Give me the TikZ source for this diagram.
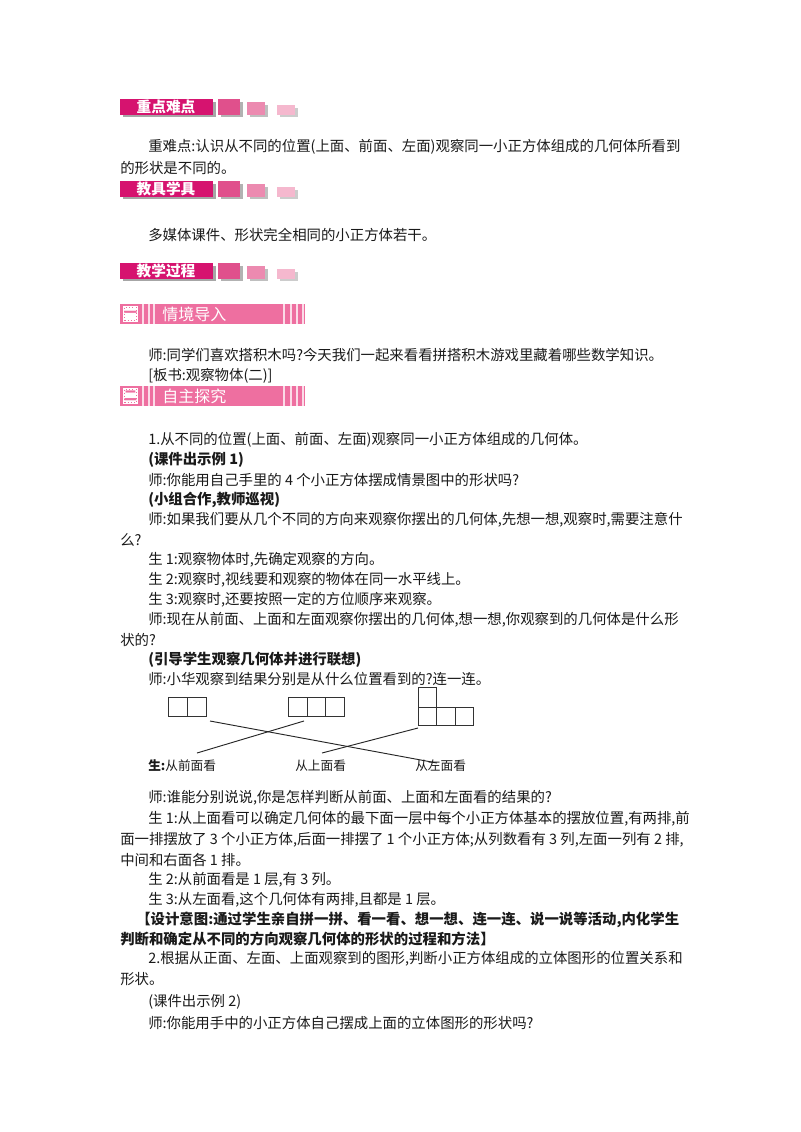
\documentclass[tikz,border=0pt]{standalone}
\usepackage{fontspec}
\setmainfont{Noto Sans CJK SC}
\definecolor{mag}{HTML}{D6136F}
\definecolor{sq1}{HTML}{E0508C}
\definecolor{sq2}{HTML}{EC8AB0}
\definecolor{sq3}{HTML}{F5B8CE}
\definecolor{bar}{HTML}{EE6FA0}
\definecolor{txt}{HTML}{1A1A1A}
\tikzset{
 ln/.style={anchor=west,inner sep=0pt,font=\fontsize{10.8}{13}\selectfont,text=txt},
 lb/.style={ln,font=\fontsize{10.8}{13}\selectfont\bfseries},
 cell/.style={draw=black!80,line width=0.7pt},
 wire/.style={draw=black!85,line width=0.7pt},
 lab/.style={anchor=west,inner sep=0pt,font=\fontsize{9.5}{11}\selectfont,text=txt}
}
\newcommand{\hdr}[3]{%
 \fill[black!35] (122.5,#1-6.5) rectangle (215.5,#1+9);
 \fill[mag] (120,#1-9) rectangle (213,#1+7);
 \node[inner sep=0pt,text=white,font=\fontsize{11}{12}\selectfont\bfseries] (#3) at (166,#1-1) {#2};
 \fill[black!30] (220.5,#1-6.5) rectangle (242.5,#1+9);
 \fill[sq1] (218,#1-9) rectangle (240,#1+7);
 \fill[black!25] (249.5,#1-3.5) rectangle (267.5,#1+9);
 \fill[sq2] (247,#1-6) rectangle (265,#1+7);
 \fill[black!20] (279.5,#1-0.5) rectangle (297.5,#1+9);
 \fill[sq3] (277,#1-3) rectangle (295,#1+7);
}
\newcommand{\sect}[4]{%
 \fill[bar] (120,#1-10) rectangle (305,#1+10);
 \fill[white] (123,#1-8) rectangle (138,#1+8);
 \draw[bar,dotted,line width=0.4pt] (124.5,#1-6.5) rectangle (136.5,#1+6.5);
 \node[inner sep=0pt,text=bar,font=\fontsize{10}{11}\selectfont\bfseries] at (130.5,#1) {#2};
 \foreach \xx in {142,148,153,283,290,296,302} \fill[white!75!bar] (\xx,#1-10) rectangle (\xx+1.6,#1+10);
 \node[anchor=west,inner sep=0pt,text=white,font=\fontsize{12}{14}\selectfont] (#4) at (162,#1) {#3};
}
\begin{document}
\begin{tikzpicture}[x=0.75pt,y=-0.75pt]
\useasboundingbox (0,0) rectangle (800,1132);
\fill[white] (0,0) rectangle (800,1132);
\hdr{108}{重点难点}{h1}
\node[ln] (t1) at (148,147) {重难点:认识从不同的位置(上面、前面、左面)观察同一小正方体组成的几何体所看到};
\node[ln] (t2) at (120,168) {的形状是不同的。};
\hdr{190}{教具学具}{h2}
\node[ln] (t3) at (148,235) {多媒体课件、形状完全相同的小正方体若干。};
\hdr{272}{教学过程}{h3}
\sect{314}{一}{情境导入}{s1}
\node[ln] (t4) at (148,355) {师:同学们喜欢搭积木吗?今天我们一起来看看拼搭积木游戏里藏着哪些数学知识。};
\node[ln] (t5) at (148,376) {[板书:观察物体(二)]};
\sect{396}{二}{自主探究}{s2}
\node[ln] (t6) at (148,440) {1.从不同的位置(上面、前面、左面)观察同一小正方体组成的几何体。};
\node[lb] (t7) at (148,460) {(课件出示例 1)};
\node[ln] (t8) at (148,480) {师:你能用自己手里的 4 个小正方体摆成情景图中的形状吗?};
\node[lb] (t9) at (148,500) {(小组合作,教师巡视)};
\node[ln] (t10) at (148,520) {师:如果我们要从几个不同的方向来观察你摆出的几何体,先想一想,观察时,需要注意什};
\node[ln] (t11) at (120,540) {么?};
\node[ln] (t12) at (148,560) {生 1:观察物体时,先确定观察的方向。};
\node[ln] (t13) at (148,580) {生 2:观察时,视线要和观察的物体在同一水平线上。};
\node[ln] (t14) at (148,600) {生 3:观察时,还要按照一定的方位顺序来观察。};
\node[ln] (t15) at (148,620) {师:现在从前面、上面和左面观察你摆出的几何体,想一想,你观察到的几何体是什么形};
\node[ln] (t16) at (120,640) {状的?};
\node[lb] (t17) at (148,660) {(引导学生观察几何体并进行联想)};
\node[ln] (t18) at (148,679) {师:小华观察到结果分别是从什么位置看到的?连一连。};
% figures
\draw[cell] (168,697) rectangle (206,716); \draw[cell] (187,697) -- (187,716);
\draw[cell] (288,697) rectangle (344,716); \draw[cell] (307,697) -- (307,716); \draw[cell] (325,697) -- (325,716);
\draw[cell] (418,687) rectangle (436,707);
\draw[cell] (418,707) rectangle (473,725); \draw[cell] (436,707) -- (436,725); \draw[cell] (455,707) -- (455,725);
\coordinate (a1) at (210,721); \coordinate (a2) at (437,763);
\coordinate (b1) at (304,721); \coordinate (b2) at (197,753);
\coordinate (c1) at (418,728); \coordinate (c2) at (322,753);
\draw[wire] (a1) -- (a2); \draw[wire] (b1) -- (b2); \draw[wire] (c1) -- (c2);
\node[lab] (l1) at (148,766) {\textbf{生:}从前面看};
\node[lab] (l2) at (295,766) {从上面看};
\node[lab] (l3) at (415,766) {从左面看};
\node[ln] (t19) at (148,798) {师:谁能分别说说,你是怎样判断从前面、上面和左面看的结果的?};
\node[ln] (t20) at (148,819) {生 1:从上面看可以确定几何体的最下面一层中每个小正方体基本的摆放位置,有两排,前};
\node[ln] (t21) at (120,840) {面一排摆放了 3 个小正方体,后面一排摆了 1 个小正方体;从列数看有 3 列,左面一列有 2 排,};
\node[ln] (t22) at (120,860) {中间和右面各 1 排。};
\node[ln] (t23) at (148,880) {生 2:从前面看是 1 层,有 3 列。};
\node[ln] (t24) at (148,900) {生 3:从左面看,这个几何体有两排,且都是 1 层。};
\node[lb] (t25) at (136,920) {【设计意图:通过学生亲自拼一拼、看一看、想一想、连一连、说一说等活动,内化学生};
\node[lb] (t26) at (120,939) {判断和确定从不同的方向观察几何体的形状的过程和方法】};
\node[ln] (t27) at (148,959) {2.根据从正面、左面、上面观察到的图形,判断小正方体组成的立体图形的位置关系和};
\node[ln] (t28) at (120,979) {形状。};
\node[ln] (t29) at (148,1002) {(课件出示例 2)};
\node[ln] (t30) at (148,1023) {师:你能用手中的小正方体自己摆成上面的立体图形的形状吗?};
\end{tikzpicture}
\end{document}
